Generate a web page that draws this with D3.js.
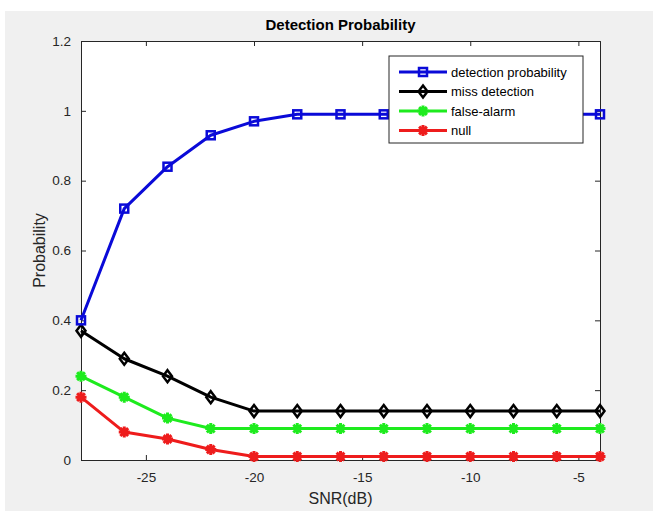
<!DOCTYPE html>
<html>
<head>
<meta charset="utf-8">
<script src="https://cdn.jsdelivr.net/npm/d3@7"></script>
<style>
	body { margin: 0; background: #fff; }
	svg { display: block; font-family: "Liberation Sans", Arial, sans-serif; }
</style>
</head>
<body>
<svg id="chart"></svg>
<script>
// SNR values (dB)
let snr = [-28, -26, -24, -22, -20, -18, -16, -14, -12, -10, -8, -6, -4];
let detection = [0.40, 0.72, 0.84, 0.93, 0.97, 0.99, 0.99, 0.99, 0.99, 0.99, 0.99, 0.99, 0.99];
let miss = [0.37, 0.29, 0.24, 0.18, 0.14, 0.14, 0.14, 0.14, 0.14, 0.14, 0.14, 0.14, 0.14];
let falseAlarm = [0.24, 0.18, 0.12, 0.09, 0.09, 0.09, 0.09, 0.09, 0.09, 0.09, 0.09, 0.09, 0.09];
let nullSeries = [0.18, 0.08, 0.06, 0.03, 0.01, 0.01, 0.01, 0.01, 0.01, 0.01, 0.01, 0.01, 0.01];
let xTicks = [-25, -20, -15, -10, -5];
let yTicks = [0, 0.2, 0.4, 0.6, 0.8, 1, 1.2];

let series = [
	{name: 'detection probability', values: detection, color: '#0a0ad8', marker: 'square'},
	{name: 'miss detection', values: miss, color: '#000000', marker: 'diamond'},
	{name: 'false-alarm', values: falseAlarm, color: '#1eeb1e', marker: 'star'},
	{name: 'null', values: nullSeries, color: '#ee1c1c', marker: 'star'}
];

let width = 653;
let height = 511;
let mLeft = 81, mRight = 600, mTop = 41, mBottom = 460;

let svg = d3.select('#chart')
	.attr('width', width)
	.attr('height', height);

// figure background (grey, with a thin white margin top/left like the screenshot)
svg.append('rect').attr('x', 5).attr('y', 11).attr('width', width - 5).attr('height', height - 11)
	.attr('fill', '#f0f0f0');

let x = d3.scaleLinear().domain([-28, -4]).range([mLeft, mRight]);
let y = d3.scaleLinear().domain([0, 1.2]).range([mBottom, mTop]);

svg.append('rect')
	.attr('x', mLeft).attr('y', mTop)
	.attr('width', mRight - mLeft).attr('height', mBottom - mTop)
	.attr('fill', '#fff');

// axes, MATLAB style: ticks inward on all four sides
let fmt = d => String(d);
let axisB = svg.append('g').attr('transform', 'translate(0,' + mBottom + ')')
	.call(d3.axisBottom(x).tickValues(xTicks).tickSize(-5).tickPadding(12).tickFormat(fmt));
let axisT = svg.append('g').attr('transform', 'translate(0,' + mTop + ')')
	.call(d3.axisTop(x).tickValues(xTicks).tickSize(-5).tickFormat(''));
let axisL = svg.append('g').attr('transform', 'translate(' + mLeft + ',0)')
	.call(d3.axisLeft(y).tickValues(yTicks).tickSize(-5).tickPadding(10).tickFormat(fmt));
let axisR = svg.append('g').attr('transform', 'translate(' + mRight + ',0)')
	.call(d3.axisRight(y).tickValues(yTicks).tickSize(-5).tickFormat(''));

[axisB, axisT, axisL, axisR].forEach(a => {
	a.select('.domain').attr('stroke', '#262626').attr('stroke-width', 1);
	a.selectAll('.tick line').attr('stroke', '#262626');
	a.selectAll('.tick text').attr('fill', '#262626').style('font-size', '13.5px');
});

let line = d3.line()
	.x((d, i) => x(snr[i]))
	.y(d => y(d));

function drawMarker(g, type, color, cx, cy) {
	if (type === 'square') {
		g.append('rect').attr('x', cx - 4).attr('y', cy - 4).attr('width', 8).attr('height', 8)
			.attr('fill', 'none').attr('stroke', color).attr('stroke-width', 2.5);
	} else if (type === 'diamond') {
		g.append('path')
			.attr('d', 'M' + cx + ',' + (cy - 6) + 'L' + (cx + 4.5) + ',' + cy + 'L' + cx + ',' + (cy + 6) + 'L' + (cx - 4.5) + ',' + cy + 'Z')
			.attr('fill', 'none').attr('stroke', color).attr('stroke-width', 2.5);
	} else {
		let r = 5.5;
		let p = '';
		[0, 45, 90, 135].forEach(a => {
			let rad = a * Math.PI / 180;
			p += 'M' + (cx - r * Math.cos(rad)) + ',' + (cy - r * Math.sin(rad)) +
				'L' + (cx + r * Math.cos(rad)) + ',' + (cy + r * Math.sin(rad));
		});
		g.append('path').attr('d', p).attr('stroke', color).attr('stroke-width', 3).attr('fill', 'none');
		g.append('circle').attr('cx', cx).attr('cy', cy).attr('r', 3).attr('fill', color);
	}
}

let plot = svg.append('g');
series.slice().reverse().forEach(s => {
	plot.append('path')
		.datum(s.values)
		.attr('d', line)
		.attr('fill', 'none')
		.attr('stroke', s.color)
		.attr('stroke-width', 3)
		.attr('stroke-linejoin', 'round');
	s.values.forEach((v, i) => drawMarker(plot, s.marker, s.color, x(snr[i]), y(v)));
});

// legend
let lg = svg.append('g').attr('transform', 'translate(389,56)');
lg.append('rect').attr('width', 194).attr('height', 87)
	.attr('fill', '#fff').attr('stroke', '#262626').attr('stroke-width', 1);
series.forEach((s, i) => {
	let ly = 16 + i * 19.5;
	lg.append('line').attr('x1', 10).attr('x2', 58).attr('y1', ly).attr('y2', ly)
		.attr('stroke', s.color).attr('stroke-width', 3);
	drawMarker(lg, s.marker, s.color, 34, ly);
	lg.append('text').attr('x', 62).attr('y', ly + 4.5)
		.attr('fill', '#000').style('font-size', '13px').text(s.name);
});

// title and labels
svg.append('text').attr('x', (mLeft + mRight) / 2).attr('y', 30)
	.attr('text-anchor', 'middle').style('font-size', '15px').style('font-weight', 'bold')
	.attr('fill', '#000').text('Detection Probability');
svg.append('text').attr('x', (mLeft + mRight) / 2).attr('y', 504)
	.attr('text-anchor', 'middle').style('font-size', '16px')
	.attr('fill', '#262626').text('SNR(dB)');
svg.append('text').attr('transform', 'translate(45,' + (mTop + mBottom) / 2 + ') rotate(-90)')
	.attr('text-anchor', 'middle').style('font-size', '16px')
	.attr('fill', '#262626').text('Probability');
</script>
</body>
</html>
